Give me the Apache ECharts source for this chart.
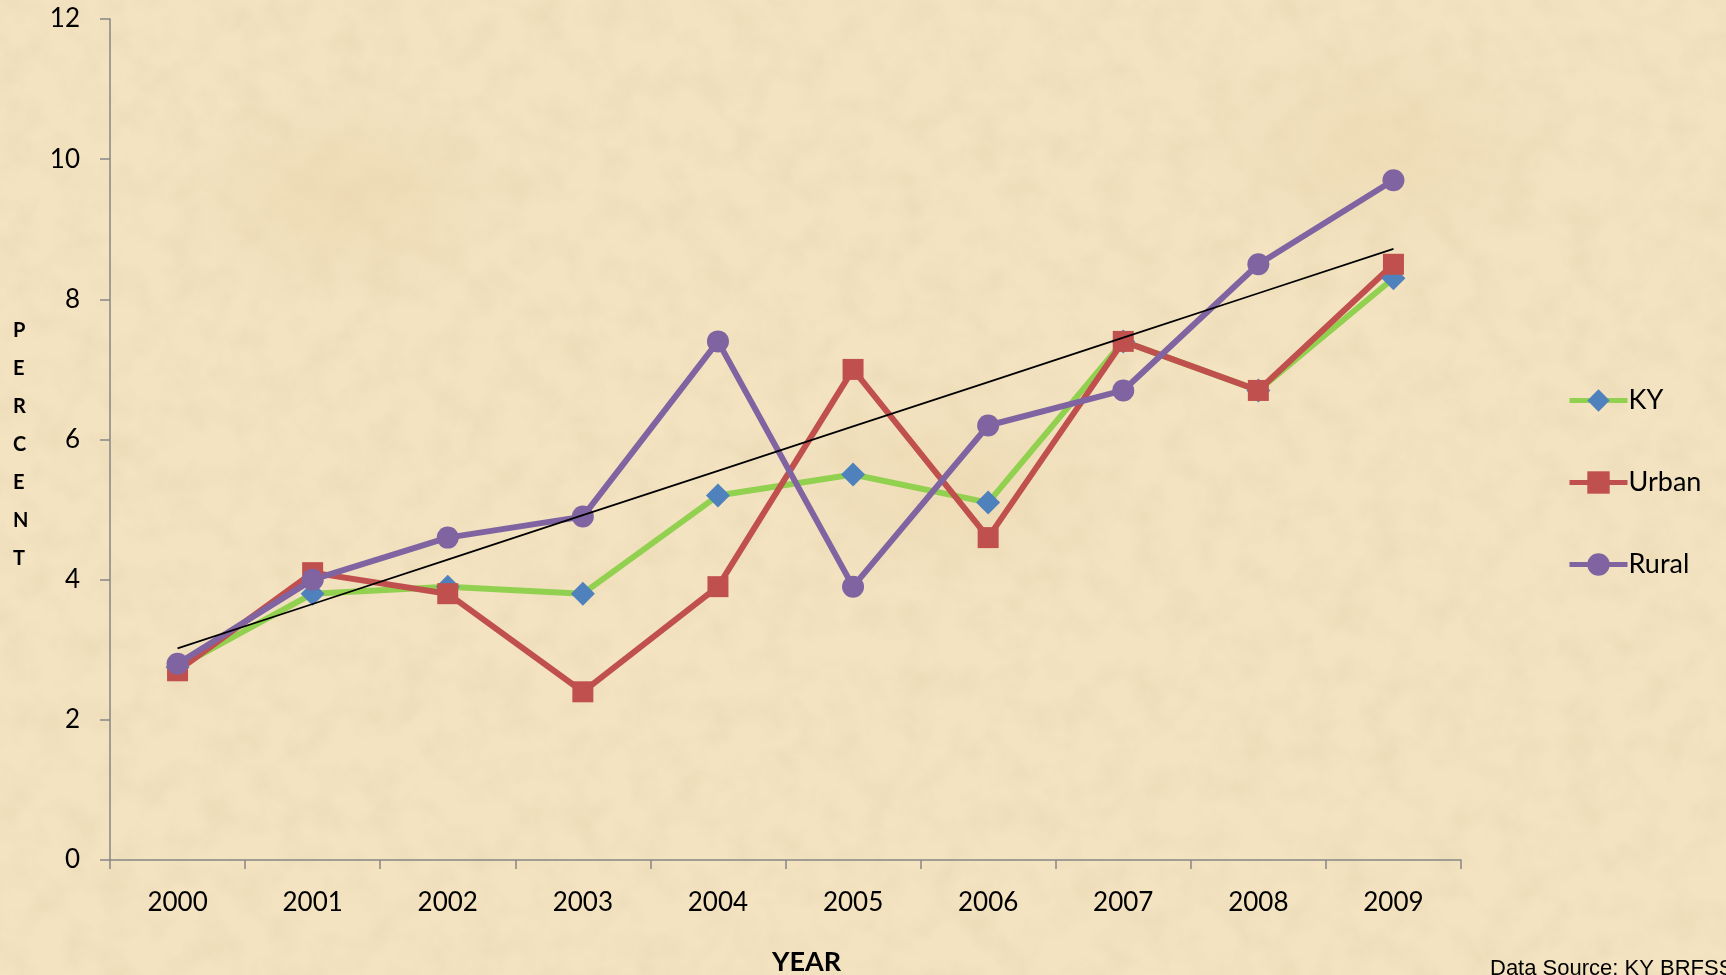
<!DOCTYPE html>
<html>
<head>
<meta charset="utf-8">
<script src="https://cdn.jsdelivr.net/npm/echarts@6/dist/echarts.min.js"></script>
<style>
  html, body { margin: 0; padding: 0; }
  body {
    width: 1726px; height: 975px; overflow: hidden;
    background-color: #F3E3C1;
    background-image:
      url("data:image/svg+xml;utf8,<svg xmlns='http://www.w3.org/2000/svg' width='1726' height='975'><filter id='n'><feTurbulence type='fractalNoise' baseFrequency='0.03' numOctaves='4' seed='7'/><feColorMatrix values='0 0 0 0 0.82  0 0 0 0 0.68  0 0 0 0 0.44  1.1 0 0 0 -0.42'/></filter><rect width='100%' height='100%' filter='url(%23n)'/></svg>"),
      radial-gradient(ellipse 260px 160px at 20% 20%, rgba(230,206,160,0.35), rgba(230,206,160,0) 70%),
      radial-gradient(ellipse 260px 160px at 55% 50%, rgba(230,206,160,0.30), rgba(230,206,160,0) 70%),
      radial-gradient(ellipse 280px 180px at 80% 15%, rgba(230,206,160,0.30), rgba(230,206,160,0) 70%);
  }
  #chart { width: 1726px; height: 975px; }
</style>
</head>
<body>
<div id="chart"></div>
<script>
// Percent by year, Kentucky overall vs. urban and rural counties
const years = ['2000', '2001', '2002', '2003', '2004', '2005', '2006', '2007', '2008', '2009'];
const kyValues    = [2.75, 3.8, 3.9, 3.8, 5.2, 5.5, 5.1, 7.4, 6.7, 8.3];
const urbanValues = [2.7, 4.1, 3.8, 2.4, 3.9, 7.0, 4.6, 7.4, 6.7, 8.5];
const ruralValues = [2.8, 4.0, 4.6, 4.9, 7.4, 3.9, 6.2, 6.7, 8.5, 9.7];
const yTicks = [0, 2, 4, 6, 8, 10, 12];

// Linear least-squares trend of the rural series, drawn across all years
function linearTrend(values) {
  const n = values.length;
  let sx = 0, sy = 0, sxx = 0, sxy = 0;
  values.forEach((v, i) => { sx += i; sy += v; sxx += i * i; sxy += i * v; });
  const slope = (n * sxy - sx * sy) / (n * sxx - sx * sx);
  const icpt = (sy - slope * sx) / n;
  return values.map((_, i) => +(icpt + slope * i).toFixed(3));
}
const ruralTrend = linearTrend(ruralValues);

const font = 'Lato, "Open Sans", sans-serif';
const axisGray = '#868686';

const chart = echarts.init(document.getElementById('chart'), null, { renderer: 'canvas' });
chart.setOption({
  backgroundColor: 'transparent',
  animation: false,
  grid: { left: 110, right: 265, top: 19, bottom: 115, containLabel: false },
  xAxis: {
    type: 'category',
    data: years,
    boundaryGap: true,
    axisLine: { lineStyle: { color: axisGray, width: 1.5 } },
    axisTick: { show: true, length: 9, lineStyle: { color: axisGray, width: 1.5 } },
    axisLabel: { color: '#000', fontFamily: font, fontSize: 26, margin: 30 },
    splitLine: { show: false }
  },
  yAxis: {
    type: 'value',
    min: yTicks[0],
    max: yTicks[yTicks.length - 1],
    interval: 2,
    axisLine: { show: true, lineStyle: { color: axisGray, width: 1.5 } },
    axisTick: { show: true, length: 10, lineStyle: { color: axisGray, width: 1.5 } },
    axisLabel: { color: '#000', fontFamily: font, fontSize: 26, margin: 30 },
    splitLine: { show: false }
  },
  legend: {
    data: ['KY', 'Urban', 'Rural'],
    orient: 'vertical',
    left: 1562,
    top: 382,
    itemWidth: 58,
    itemHeight: 28,
    itemGap: 55,
    lineStyle: { width: 5 },
    textStyle: { color: '#000', fontFamily: font, fontSize: 27, padding: [0, 0, 0, -4] }
  },
  graphic: [
    {
      type: 'text',
      left: 13,
      top: 312,
      style: {
        text: 'P\nE\nR\nC\nE\nN\nT',
        fill: '#000',
        font: 'bold 20px ' + font,
        lineHeight: 38,
        align: 'center'
      }
    },
    {
      type: 'text',
      left: 772,
      top: 949,
      style: { text: 'YEAR', fill: '#000', font: 'bold 27px ' + font }
    },
    {
      type: 'text',
      left: 1490,
      top: 958,
      style: { text: 'Data Source: KY BRFSS', fill: '#000', font: '22px "Liberation Sans", Arial, sans-serif' }
    }
  ],
  series: [
    {
      name: 'KY',
      type: 'line',
      data: kyValues,
      symbol: 'diamond',
      symbolSize: 24,
      showAllSymbol: true,
      lineStyle: { color: '#92D050', width: 6 },
      itemStyle: { color: '#4F81BD' }
    },
    {
      name: 'Urban',
      type: 'line',
      data: urbanValues,
      symbol: 'rect',
      symbolSize: 21,
      showAllSymbol: true,
      lineStyle: { color: '#C0504D', width: 6 },
      itemStyle: { color: '#C0504D' }
    },
    {
      name: 'Rural',
      type: 'line',
      data: ruralValues,
      symbol: 'circle',
      symbolSize: 22,
      showAllSymbol: true,
      lineStyle: { color: '#8064A2', width: 6 },
      itemStyle: { color: '#8064A2' }
    },
    {
      name: 'Rural trend',
      type: 'line',
      data: ruralTrend,
      symbol: 'none',
      lineStyle: { color: '#000', width: 1.8 },
      z: 5,
      silent: true
    }
  ]
});
</script>
</body>
</html>
